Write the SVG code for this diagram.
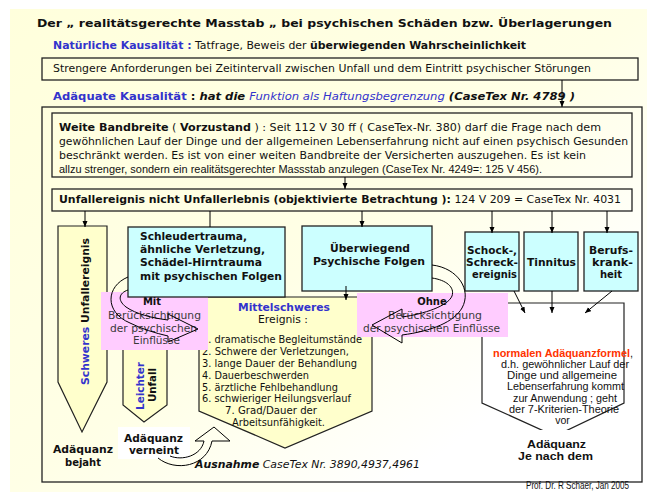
<svg xmlns="http://www.w3.org/2000/svg" width="647" height="492" viewBox="0 0 647 492">
<defs>
<linearGradient id="bg" x1="0" y1="0" x2="1" y2="1">
<stop offset="0" stop-color="#FFFFDC"/>
<stop offset="0.5" stop-color="#FFFFE6"/>
<stop offset="0.8" stop-color="#FFFFFF"/>
<stop offset="1" stop-color="#FFFFFF"/>
</linearGradient>
<marker id="ah" markerUnits="userSpaceOnUse" markerWidth="6" markerHeight="6" refX="6" refY="2.5" orient="auto">
<path d="M0,0 L6,2.5 L0,5 z" fill="#000"/>
</marker>
</defs>
<style>
.t{font-family:"DejaVu Sans",Verdana,sans-serif;font-size:10px;fill:#111}
.a{font-family:"Liberation Sans",Arial,sans-serif;font-size:10.5px;fill:#111}
.b{font-weight:bold}
.i{font-style:italic}
.blue{fill:#3333CC}
.red{fill:#FF3300}
.gray{fill:#3a3a3a}
.box{stroke:#222;stroke-width:1.3;fill:none}
.cyan{fill:#CCFFFF;stroke:#222;stroke-width:1.3}
.pink{fill:#FFCCFF;stroke:none}
.pent{fill:#FFFFCC;stroke:#222;stroke-width:1.2}
.con{stroke:#000;stroke-width:1;fill:none}
.arr{stroke:#000;stroke-width:1;fill:none;marker-end:url(#ah)}
</style>
<rect x="10" y="9" width="637" height="483" fill="url(#bg)"/>

<g id="title">
<text class="t b" x="37" y="27" font-size="13" textLength="575" lengthAdjust="spacingAndGlyphs">Der „ realitätsgerechte Masstab „ bei psychischen Schäden bzw. Überlagerungen</text>
</g>
<g id="natuerlich">
<text class="t" x="53" y="48.5" textLength="473" lengthAdjust="spacingAndGlyphs"><tspan class="b blue">Natürliche Kausalität :</tspan> Tatfrage, Beweis der <tspan class="b">überwiegenden Wahrscheinlichkeit</tspan></text>
</g>
<g id="strengere">
<rect class="box" x="42" y="58" width="596" height="22"/>
<text class="t" x="53" y="71.5" textLength="538" lengthAdjust="spacingAndGlyphs">Strengere Anforderungen bei Zeitintervall zwischen Unfall und dem Eintritt psychischer Störungen</text>
</g>
<g id="adaequat">
<text class="t b" x="53" y="99.5" textLength="522" lengthAdjust="spacingAndGlyphs"><tspan class="blue">Adäquate Kausalität</tspan> : <tspan class="i">hat die </tspan><tspan class="i blue" font-weight="normal">Funktion als Haftungsbegrenzung</tspan><tspan class="i"> (CaseTex Nr. 4789 )</tspan></text>
</g>
<g id="outer">
<rect class="box" x="42" y="107" width="600" height="375" stroke-width="1.5"/>
</g>
<g id="weite">
<rect class="box" x="52" y="113" width="580" height="64"/>
<text class="t" x="59" y="131" textLength="542" lengthAdjust="spacingAndGlyphs"><tspan class="b">Weite Bandbreite</tspan> ( <tspan class="b">Vorzustand</tspan> ) : Seit 112 V 30 ff ( CaseTex-Nr. 380) darf die Frage nach dem</text>
<text class="t" x="59" y="145" textLength="569" lengthAdjust="spacingAndGlyphs">gewöhnlichen Lauf der Dinge und der allgemeinen Lebenserfahrung nicht auf einen psychisch Gesunden</text>
<text class="t" x="59" y="159" textLength="527" lengthAdjust="spacingAndGlyphs">beschränkt werden. Es ist von einer weiten Bandbreite der Versicherten auszugehen. Es ist kein</text>
<text class="a" x="59" y="172.5" font-size="10" textLength="483" lengthAdjust="spacingAndGlyphs">allzu strenger, sondern ein realitätsgerechter Massstab anzulegen  (CaseTex Nr. 4249=: 125 V 456).</text>
</g>
<g id="unfallereignis">
<rect class="box" x="52" y="189" width="580" height="22"/>
<text class="t" x="59" y="203" textLength="562" lengthAdjust="spacingAndGlyphs"><tspan class="b">Unfallereignis nicht Unfallerlebnis (objektivierte Betrachtung ):</tspan> 124 V 209 = CaseTex Nr. 4031</text>
</g>

<g id="schweres">
<polygon class="pent" points="58,226 107,226 107,382 82,432 58,382"/>
<text class="t b" transform="translate(89,311.5) rotate(-90)" text-anchor="middle" textLength="147" lengthAdjust="spacingAndGlyphs"><tspan class="blue">Schweres</tspan> Unfallereignis</text>
</g>
<g id="leichter">
<polygon class="pent" points="123,346 167,346 167,405 144,422 123,405"/>
<text class="t b blue" transform="translate(143.5,386) rotate(-90)" text-anchor="middle" textLength="48" lengthAdjust="spacingAndGlyphs">Leichter</text>
<text class="t b" transform="translate(156,385) rotate(-90)" text-anchor="middle" textLength="34" lengthAdjust="spacingAndGlyphs">Unfall</text>
</g>
<g id="mittelschweres">
<polygon class="pent" points="199,297 372,297 372,411 285,448 199,411"/>
<text class="t b blue" x="284" y="311" text-anchor="middle" textLength="92" lengthAdjust="spacingAndGlyphs">Mittelschweres</text>
<text class="t" x="283" y="323" text-anchor="middle" textLength="50" lengthAdjust="spacingAndGlyphs">Ereignis :</text>
<text class="t" x="202" y="343" textLength="160" lengthAdjust="spacingAndGlyphs">1. dramatische Begleitumstände</text>
<text class="t" x="202" y="355" textLength="147" lengthAdjust="spacingAndGlyphs">2. Schwere der Verletzungen,</text>
<text class="t" x="202" y="367" textLength="155" lengthAdjust="spacingAndGlyphs">3. lange Dauer der Behandlung</text>
<text class="t" x="202" y="378.5" textLength="107" lengthAdjust="spacingAndGlyphs">4. Dauerbeschwerden</text>
<text class="t" x="202" y="390.5" textLength="136" lengthAdjust="spacingAndGlyphs">5. ärztliche Fehlbehandlung</text>
<text class="t" x="202" y="402" textLength="149" lengthAdjust="spacingAndGlyphs">6. schwieriger Heilungsverlauf</text>
<text class="t" x="271" y="414" text-anchor="middle" textLength="92" lengthAdjust="spacingAndGlyphs">7. Grad/Dauer der</text>
<text class="t" x="278.5" y="426" text-anchor="middle" textLength="93" lengthAdjust="spacingAndGlyphs">Arbeitsunfähigkeit.</text>
</g>
<g id="normal">
<polygon points="482,303 624,303 624,403 555,436 482,403" fill="#FFFFFF" stroke="#222" stroke-width="1.2"/>
<text class="a" x="563" y="357" text-anchor="middle" textLength="140" lengthAdjust="spacingAndGlyphs"><tspan class="b red">normalen Adäquanzformel</tspan>,</text>
<text class="a" x="565" y="367.5" text-anchor="middle" textLength="128" lengthAdjust="spacingAndGlyphs">d.h. gewöhnlicher Lauf der</text>
<text class="a" x="562" y="378.5" text-anchor="middle" textLength="110" lengthAdjust="spacingAndGlyphs">Dinge und allgemeine</text>
<text class="a" x="565.5" y="390" text-anchor="middle" textLength="117" lengthAdjust="spacingAndGlyphs">Lebenserfahrung kommt</text>
<text class="a" x="565" y="401.5" text-anchor="middle" textLength="104" lengthAdjust="spacingAndGlyphs">zur Anwendung ; geht</text>
<text class="a" x="564" y="413" text-anchor="middle" textLength="110" lengthAdjust="spacingAndGlyphs">der 7-Kriterien-Theorie</text>
<text class="a" x="562.5" y="423.5" text-anchor="middle">vor</text>
</g>
<g id="mit">
<rect class="pink" x="101" y="292" width="107" height="58"/>
<text class="t b" x="152" y="305" text-anchor="middle">Mit</text>
<text class="t gray" x="154.5" y="319" text-anchor="middle" textLength="93" lengthAdjust="spacingAndGlyphs">Berücksichtigung</text>
<text class="t gray" x="153.5" y="331.5" text-anchor="middle" textLength="87" lengthAdjust="spacingAndGlyphs">der psychischen</text>
<text class="t gray" x="156.5" y="344" text-anchor="middle" textLength="47" lengthAdjust="spacingAndGlyphs">Einflüsse</text>
</g>
<g id="ohne">
<rect class="pink" x="357" y="293" width="151" height="44"/>
<text class="t b" x="432" y="305" text-anchor="middle">Ohne</text>
<text class="t gray" x="435" y="318.5" text-anchor="middle" textLength="94" lengthAdjust="spacingAndGlyphs">Berücksichtigung</text>
<text class="t gray" x="431.5" y="332" text-anchor="middle" textLength="137" lengthAdjust="spacingAndGlyphs">der psychischen Einflüsse</text>
</g>
<g id="schleudertrauma">
<rect class="cyan" x="128" y="227" width="157" height="70"/>
<text class="t b" x="140" y="239.5" textLength="107" lengthAdjust="spacingAndGlyphs">Schleudertrauma,</text>
<text class="t b" x="140" y="253" textLength="125" lengthAdjust="spacingAndGlyphs">ähnliche Verletzung,</text>
<text class="t b" x="140" y="266" textLength="122" lengthAdjust="spacingAndGlyphs">Schädel-Hirntrauma</text>
<text class="t b" x="140" y="279.5" textLength="142" lengthAdjust="spacingAndGlyphs">mit psychischen Folgen</text>
</g>
<g id="ueberwiegend">
<rect class="cyan" x="302" y="226" width="130" height="65"/>
<text class="t b" x="370" y="252" text-anchor="middle" textLength="80" lengthAdjust="spacingAndGlyphs">Überwiegend</text>
<text class="t b" x="369" y="264.5" text-anchor="middle" textLength="112" lengthAdjust="spacingAndGlyphs">Psychische Folgen</text>
</g>
<g id="schock">
<rect class="cyan" x="465" y="232" width="54" height="59"/>
<text class="t b" x="492" y="253.5" text-anchor="middle" textLength="50" lengthAdjust="spacingAndGlyphs">Schock-,</text>
<text class="t b" x="492" y="265.5" text-anchor="middle" textLength="52" lengthAdjust="spacingAndGlyphs">Schreck-</text>
<text class="t b" x="494.5" y="277.5" text-anchor="middle" textLength="45" lengthAdjust="spacingAndGlyphs">ereignis</text>
</g>
<g id="tinnitus">
<rect class="cyan" x="524" y="232" width="54" height="59"/>
<text class="t b" x="551.5" y="265.5" text-anchor="middle" textLength="49" lengthAdjust="spacingAndGlyphs">Tinnitus</text>
</g>
<g id="beruf">
<rect class="cyan" x="584" y="232" width="54" height="59"/>
<text class="t b" x="611" y="253.5" text-anchor="middle" textLength="44" lengthAdjust="spacingAndGlyphs">Berufs-</text>
<text class="t b" x="612.5" y="265.5" text-anchor="middle" textLength="41" lengthAdjust="spacingAndGlyphs">krank-</text>
<text class="t b" x="611" y="277.5" text-anchor="middle">heit</text>
</g>
<g id="bejaht">
<text class="t b" x="83" y="453" text-anchor="middle" textLength="60" lengthAdjust="spacingAndGlyphs">Adäquanz</text>
<text class="t b" x="83" y="465.5" text-anchor="middle">bejaht</text>
</g>
<g id="verneint">
<rect x="118" y="427" width="72" height="32" fill="#FFFFFF"/>
<text class="t b" x="153.5" y="442" text-anchor="middle" textLength="59" lengthAdjust="spacingAndGlyphs">Adäquanz</text>
<text class="t b" x="154" y="453.5" text-anchor="middle" textLength="50" lengthAdjust="spacingAndGlyphs">verneint</text>
</g>
<g id="jenachdem">
<rect x="515" y="430" width="85" height="34" fill="#FFFFFF"/>
<text class="a b" x="556.5" y="447.5" font-size="12" text-anchor="middle" textLength="59" lengthAdjust="spacingAndGlyphs">Adäquanz</text>
<text class="a b" x="555.5" y="459.5" font-size="12" text-anchor="middle" textLength="75" lengthAdjust="spacingAndGlyphs">Je nach dem</text>
</g>
<g id="ausnahme">
<text class="t i" x="195" y="468" textLength="225" lengthAdjust="spacingAndGlyphs"><tspan class="b">Ausnahme</tspan> CaseTex Nr. 3890,4937,4961</text>
</g>
<g id="footer">
<text class="a" x="526" y="489" font-size="5.8" fill="#555" textLength="103" lengthAdjust="spacingAndGlyphs">Prof. Dr. R Schaer, Jan 2005</text>
</g>

<g id="connectors">
<line class="arr" x1="562" y1="80" x2="562" y2="107"/>
<line class="arr" x1="345" y1="177" x2="345" y2="189"/>
<line class="arr" x1="85" y1="211" x2="85" y2="227"/>
<line class="con" x1="210" y1="211" x2="210" y2="227"/>
<line class="arr" x1="362" y1="211" x2="362" y2="227"/>
<line class="arr" x1="492" y1="211" x2="492" y2="233"/>
<line class="arr" x1="552" y1="211" x2="552" y2="233"/>
<line class="arr" x1="607" y1="211" x2="607" y2="233"/>
<line class="arr" x1="346" y1="286" x2="346" y2="300"/>
<line class="arr" x1="514" y1="291" x2="525" y2="313"/>
<line class="arr" x1="552" y1="291" x2="552" y2="313"/>
<line class="arr" x1="612" y1="291" x2="585" y2="313"/>
<path class="con" d="M128,277 C106,286 104,312 130,323 C142,329 155,333 168,336 L168,342 L198,329 L168,314 L168,320 C152,318 136,314 126,307 C117,300 119,293 128,290"/>
<path class="con" d="M432,265 C458,268 472,290 462,308 C454,322 432,331 402,335 L402,343 L372,325 L402,309 L402,317 C424,314 448,306 452,296 C455,287 446,280 432,278"/>
<path class="con" d="M158,458 C175,472 207,467 212,441 L230,441 L214,427 L195,441 L204,441 C201,456 182,461 170,456"/>
</g>
</svg>
